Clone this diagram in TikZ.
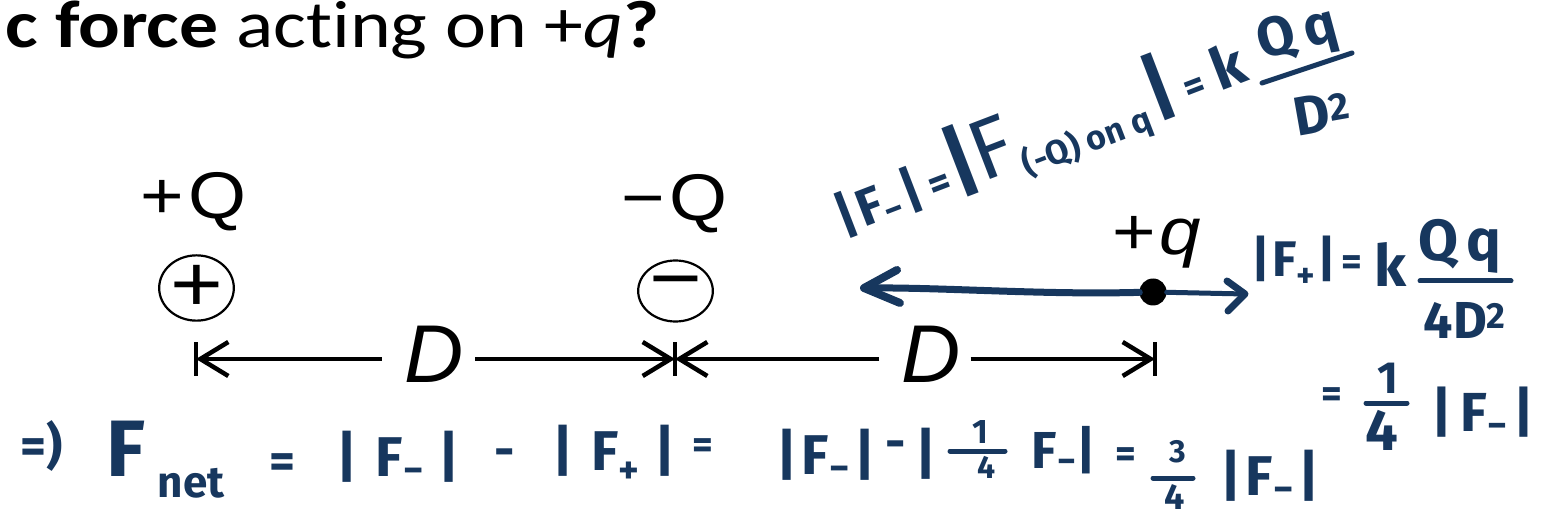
\documentclass[tikz,border=0pt]{standalone}
\usepackage{fontspec}
\setmainfont{Carlito}[Ligatures=NoCommon]
\newfontfamily\arialf{Liberation Sans}
\newfontfamily\hand{Fira Sans}
\usetikzlibrary{arrows.meta,shapes.geometric}
\definecolor{ink}{HTML}{17375E}
\newcommand{\myabs}[3]{|\hspace{#3}F\textsubscript{#1}\hspace{#2}|}
\newcommand{\sx}[1]{\scalebox{1.13}[1]{#1}}
\newcommand{\fs}[1]{\fontsize{#1}{#1}\selectfont}
\tikzset{
  lbl/.style={font=\arialf\fs{66}, inner sep=0pt, anchor=base},
  dlbl/.style={font=\arialf\itshape\fs{82}, inner sep=0pt, anchor=base},
  hw/.style={font=\hand\bfseries\fs{#1}, text=ink, inner sep=0pt},
  hw/.default=54,
  dim/.style={line width=4.5pt},
  barb/.style={-{Straight Barb[length=28pt,width=34pt,line width=4.5pt]}},
  charge/.style={ellipse, draw, line width=2.2pt, minimum width=64pt, minimum height=61pt, inner sep=0pt, font=\arialf\fs{80}},
  hline/.style={draw=ink, line width=6pt, line cap=round, line join=round},
  fracbar/.style={draw=ink, line width=5pt, line cap=round},
}
\begin{document}
\begin{tikzpicture}[x=1pt,y=-1pt]
\useasboundingbox (0,0) rectangle (1546,518);
% title
\node[anchor=base west, inner sep=0pt, font=\fs{67}] (title) at (5,48) {\scalebox{1.16}[1]{\textbf{c force} acting on +\textit{q}\textbf{?}}};
% charges
\node[charge] (cp) at (196.5,288) {\sx{+}};
\node[charge] (cm) at (675.5,291) {\sx{−}};
\node[lbl] (lp) at (194,219) {\sx{+\hspace{4pt}Q}};
\node[lbl] (lm) at (675,221) {\sx{−\hspace{4pt}Q}};
\node[lbl] (lq) at (1157,255) {\sx{+\hspace{3pt}\textit{q}}};
\node[circle, fill, minimum size=27pt, inner sep=0pt] (dot) at (1153,292) {};
% dimension line
\coordinate (pA) at (196,359);
\coordinate (pM) at (675,359);
\coordinate (pB) at (1155,359);
\node[dlbl, minimum width=93pt] (dA) at (428.5,382) {\hspace*{12pt}D};
\node[dlbl, minimum width=91pt] (dB) at (925,382) {\hspace*{12pt}D};
\draw[dim, barb] (pA -| dA.west) -- (pA);
\draw[dim, barb] (pA -| dA.east) -- (pM);
\draw[dim, barb] (pB -| dB.west) -- (pM);
\draw[dim, barb] (pB -| dB.east) -- (pB);
\foreach \p in {pA,pM,pB} \draw[dim] ([yshift=17pt]\p) -- ([yshift=-17pt]\p);
% blue force arrows
\coordinate (lt) at (864,288);
\coordinate (rt) at (1245,294);
\draw[hline, line width=7pt] (dot) .. controls (1040,295) and (940,287) .. (lt);
\draw[hline, line width=8pt] (897,270) -- (lt) -- (900,303);
\draw[hline, line width=5pt] (dot) -- (rt);
\draw[hline, line width=7pt] (1227,281) -- (rt) -- (1228,311);
% equation 1 (slanted)
\node[hw, anchor=base west, rotate=21] (e1) at (843,236)
  {{\fs{52}\myabs{−}{3pt}{3pt}}\hspace{8pt}{\fs{42}=}\hspace{2pt}{\fs{80}|}\hspace{-2pt}{\mdseries\fs{85}F}\hspace{2pt}\raisebox{-11pt}{\fs{34}(-Q) on q}\hspace{4pt}{\fs{75}|}\hspace{10pt}{\fs{40}=}\hspace{12pt}{\fs{58}k}};
\node[hw=55, rotate=15] (e1i) at (1298,36) {Q\,q};
\draw[fracbar] (1262,83) -- (1352,53);
\node[hw=55, rotate=10] (e1j) at (1322,113) {D\textsuperscript{2}};
% equation 2
\node[hw=50] (e2a) at (1294,262) {\myabs{+}{2pt}{2pt}};
\node[hw=40] (e2b) at (1352,266) {=};
\node[hw=58] (e2c) at (1390,264) {k};
\node[hw=58] (e2d) at (1460,246) {Q\hspace{8pt}q};
\draw[fracbar] (1420,281) -- (1511,281);
\node[hw=52] (e2e) at (1465,320) {4D\textsuperscript{2}};
% equation 3
\node[hw=40] (e3a) at (1332,398) {=};
\node[hw=45] (e3b) at (1388,378) {1};
\draw[fracbar] (1366,403) -- (1407,403);
\node[hw=58] (e3c) at (1382,430) {4};
\node[hw=55] (e3d) at (1483,413) {\myabs{−}{6pt}{8pt}};
% bottom line
\node[hw=50] (b1) at (42,446) {=)};
\node[hw=80] (b2) at (126,449) {F};
\node[hw=44] (b3) at (191,483) {net};
\node[hw=50] (b4) at (282,466) {=};
\node[hw=56] (b5) at (398,457) {\myabs{−}{14pt}{18pt}};
\node[hw=50] (b6) at (505,458) {-};
\node[hw=56] (b7) at (614,454) {\myabs{+}{14pt}{18pt}};
\node[hw=40] (b8) at (703,449) {=};
\node[hw=56] (b9) at (826,455) {\myabs{−}{4pt}{4pt}};
\node[hw=50] (b10) at (896,450) {-};
\node[hw=56] (b11) at (926,454) {|};
\node[hw=34] (b12) at (980,432) {1};
\draw[fracbar] (950,451) -- (1005,451);
\node[hw=32] (b13) at (987,467) {4};
\node[hw=52] (b14) at (1064,450) {F\textsubscript{−}|};
\node[hw=40] (b15) at (1126,458) {=};
\node[hw=32] (b16) at (1178,452) {3};
\draw[fracbar] (1153,478) -- (1193,478);
\node[hw=36] (b17) at (1175,497) {4};
\node[hw=56] (b18) at (1270,476) {\myabs{−}{4pt}{4pt}};
\end{tikzpicture}
\end{document}
